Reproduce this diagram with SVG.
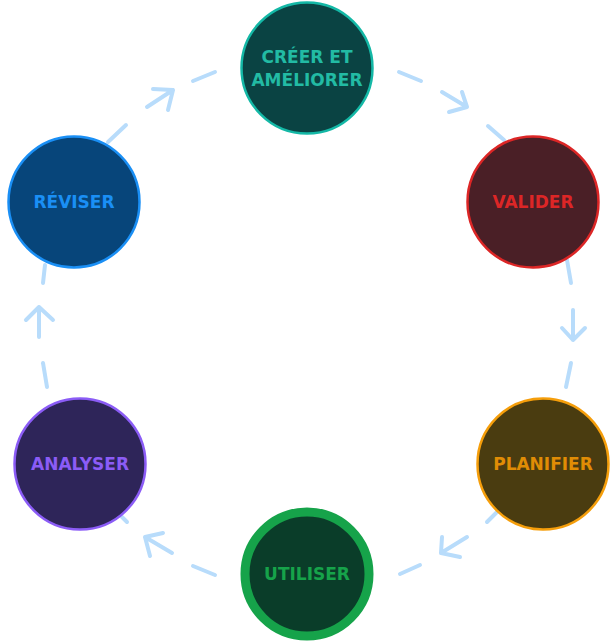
<svg xmlns="http://www.w3.org/2000/svg" width="614" height="642" viewBox="0 0 614 642">
<style>
.lbl{font-family:"DejaVu Sans",Inter,sans-serif;font-weight:700;font-size:17px;text-anchor:middle}
.c{stroke:#b8dcfb;stroke-width:4;stroke-linecap:round;stroke-linejoin:round;fill:none}
</style>
<rect width="614" height="642" fill="#ffffff"/>
<g id="connectors" class="c">
<path d="M108 142 L126 125"/>
<path d="M147 107 L173 90 M153 89 L173 90 L168 110"/>
<path d="M193 81 L215 72"/>
<path d="M399 72 L421 81"/>
<path d="M442 92 L467 107 M462 92 L467 107 L449 112"/>
<path d="M488 126 L504 140"/>
<path d="M567 260 L571 283"/>
<path d="M573 310 L573 340 M562 328 L573 340 L585 328"/>
<path d="M571 363 L566 387"/>
<path d="M487 522 L497 512"/>
<path d="M467 537 L441 553 M442 537 L441 553 L460 557"/>
<path d="M420 565 L400 574"/>
<path d="M215 575 L193 566"/>
<path d="M172 553 L145 537 M163 533 L145 537 L150 556"/>
<path d="M127 522 L122 517"/>
<path d="M47 387 L43 363"/>
<path d="M39 337 L39 307 M26 320 L39 307 L53 320"/>
<path d="M43 283 L45 265"/>
</g>
<g id="node-creer">
<circle cx="307" cy="68" r="65.5" fill="#0a4343" stroke="#14b8a6" stroke-width="2.5"/>
<text class="lbl" x="307" y="63" fill="#22bba4">CRÉER ET</text>
<text class="lbl" x="307" y="86" fill="#22bba4">AMÉLIORER</text>
</g>
<g id="node-valider">
<circle cx="533" cy="202" r="65.5" fill="#4a1f26" stroke="#dc2626" stroke-width="2.5"/>
<text class="lbl" x="533" y="208" fill="#dc2626">VALIDER</text>
</g>
<g id="node-planifier">
<circle cx="543" cy="464" r="65.5" fill="#4a3c10" stroke="#f59e0b" stroke-width="2.5"/>
<text class="lbl" x="543" y="470" fill="#e08c05">PLANIFIER</text>
</g>
<g id="node-utiliser">
<circle cx="307" cy="574" r="62" fill="#0a3d29" stroke="#16a34a" stroke-width="9"/>
<text class="lbl" x="307" y="580" fill="#16a34a">UTILISER</text>
</g>
<g id="node-analyser">
<circle cx="80" cy="464" r="65.5" fill="#2e2559" stroke="#8b5cf6" stroke-width="2.5"/>
<text class="lbl" x="80" y="470" fill="#8b5cf6">ANALYSER</text>
</g>
<g id="node-reviser">
<circle cx="74" cy="202" r="65.5" fill="#07457a" stroke="#1a8ff5" stroke-width="2.5"/>
<text class="lbl" x="74" y="208" fill="#1a8ff5">RÉVISER</text>
</g>
</svg>
